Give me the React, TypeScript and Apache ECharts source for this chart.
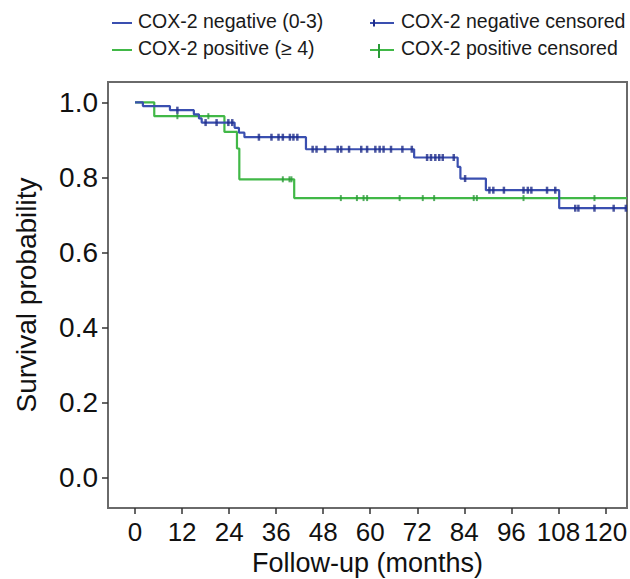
import React, { useEffect, useRef } from "react";
import * as echarts from "echarts";

// ---- Data ----
const xTicks = [0, 12, 24, 36, 48, 60, 72, 84, 96, 108, 120];
const yTicks = [0, 0.2, 0.4, 0.6, 0.8, 1.0];

// COX-2 negative (0-3): Kaplan–Meier step curve
const negTimes = [0, 2, 8.9, 15, 16.3, 17, 25.4, 26.5, 27.9, 43.6, 71.2, 82.3, 83, 89.5, 108.2, 125.5];
const negSurv = [1, 0.99, 0.979, 0.968, 0.957, 0.946, 0.932, 0.919, 0.907, 0.875, 0.853, 0.828, 0.797, 0.766, 0.718, 0.718];
const negCensored = [
  10.8, 18, 20.8, 23.8, 24.8, 31.6, 34.8, 36.6, 37.7, 39.5, 40.4, 41.4, 45.3, 46.3, 48.5, 51.7, 52.6,
  54.6, 57.7, 59.2, 61.3, 62.4, 63.4, 65.3, 68.2, 70.6, 74.5, 75.5, 76.6, 77.6, 78.5, 81.3, 84.2, 90.4,
  91.4, 94.1, 99.1, 100.2, 101.1, 105.1, 107.2, 112.3, 113.1, 117.2, 122.1, 125.2,
];

// COX-2 positive (>= 4)
const posTimes = [0, 4.9, 22.8, 26, 26.6, 40.6, 125.5];
const posSurv = [1, 0.963, 0.921, 0.877, 0.795, 0.745, 0.745];
const posCensored = [10.8, 18.7, 37.7, 39.4, 39.9, 52.5, 56.6, 58.3, 59.2, 67.5, 73.4, 76.3, 86.4, 87.2, 99.1, 117.2];

const legendLabels = [
  "COX-2 negative (0-3)",
  "COX-2 positive (\u2265 4)",
  "COX-2 negative censored",
  "COX-2 positive censored",
];

// ---- Styles ----
const BLUE = "#3a4fb0";
const BLUE_MARK = "#1f2d8a";
const GREEN = "#41b847";
const GREEN_MARK = "#2a9a38";
const FONT = "'Liberation Sans', Arial, Helvetica, sans-serif";

function stepValueAt(times: number[], surv: number[], t: number): number {
  let v = surv[0];
  for (let i = 0; i < times.length; i++) {
    if (times[i] <= t) v = surv[i];
  }
  return v;
}

export default function App() {
  const ref = useRef<HTMLDivElement>(null);

  useEffect(() => {
    if (!ref.current) return;
    const chart = echarts.init(ref.current, undefined, { renderer: "svg" });

    const negLine = negTimes.map((t, i) => [t, negSurv[i]]);
    const posLine = posTimes.map((t, i) => [t, posSurv[i]]);
    const negMarks = negCensored.map((t) => [t, stepValueAt(negTimes, negSurv, t)]);
    const posMarks = posCensored.map((t) => [t, stepValueAt(posTimes, posSurv, t)]);

    chart.setOption({
      animation: false,
      backgroundColor: "#ffffff",
      textStyle: { fontFamily: FONT },
      grid: {
        left: 108,
        right: 3,
        top: 82,
        bottom: 71,
        containLabel: false,
        outerBoundsMode: "none",
        show: true,
        borderColor: "#6a6a6a",
        borderWidth: 2,
        backgroundColor: "transparent",
      },
      xAxis: {
        type: "value",
        min: -6.9,
        max: 125.5,
        axisLine: { show: false, onZero: false },
        axisTick: {
          show: true,
          customValues: xTicks,
          length: 6,
          lineStyle: { color: "#333", width: 1.5 },
        },
        axisLabel: {
          customValues: xTicks,
          fontSize: 26,
          color: "#111",
          margin: 11,
          fontFamily: FONT,
          hideOverlap: false,
        },
        splitLine: { show: false },
        name: "Follow-up (months)",
        nameLocation: "middle",
        nameGap: 41,
        nameTextStyle: { fontSize: 27, color: "#111", fontFamily: FONT },
      },
      yAxis: {
        type: "value",
        min: -0.08,
        max: 1.054,
        axisLine: { show: false, onZero: false },
        axisTick: {
          show: true,
          customValues: yTicks,
          length: 6,
          lineStyle: { color: "#333", width: 1.5 },
        },
        axisLabel: {
          customValues: yTicks,
          fontSize: 28,
          color: "#111",
          margin: 10,
          fontFamily: FONT,
          formatter: (v: number) => v.toFixed(1),
        },
        splitLine: { show: false },
        name: "Survival probability",
        nameLocation: "middle",
        nameGap: 68,
        nameRotate: 90,
        nameTextStyle: { fontSize: 28, color: "#111", fontFamily: FONT },
      },
      series: [
        {
          name: legendLabels[0],
          type: "line",
          step: "end",
          data: negLine,
          showSymbol: false,
          lineStyle: { color: BLUE, width: 2.2 },
          z: 3,
        },
        {
          name: legendLabels[1],
          type: "line",
          step: "end",
          data: posLine,
          showSymbol: false,
          lineStyle: { color: GREEN, width: 2.2 },
          z: 2,
        },
        {
          name: legendLabels[2],
          type: "scatter",
          data: negMarks,
          symbol: "rect",
          symbolSize: [2.5, 7],
          itemStyle: { color: BLUE_MARK },
          z: 5,
        },
        {
          name: legendLabels[3],
          type: "scatter",
          data: posMarks,
          symbol: "rect",
          symbolSize: [2, 6],
          itemStyle: { color: GREEN_MARK },
          z: 4,
        },
      ],
      graphic: [
        { type: "line", shape: { x1: 112, y1: 23, x2: 132, y2: 23 }, style: { stroke: BLUE, lineWidth: 2 } },
        {
          type: "text",
          x: 138,
          y: 21,
          style: { text: legendLabels[0], fontSize: 19.5, fill: "#1a1a1a", fontFamily: FONT, verticalAlign: "middle" },
        },
        { type: "line", shape: { x1: 112, y1: 50, x2: 132, y2: 50 }, style: { stroke: GREEN, lineWidth: 2 } },
        {
          type: "text",
          x: 138,
          y: 48,
          style: { text: legendLabels[1], fontSize: 19.5, fill: "#1a1a1a", fontFamily: FONT, verticalAlign: "middle" },
        },
        { type: "line", shape: { x1: 370, y1: 23, x2: 394, y2: 23 }, style: { stroke: BLUE, lineWidth: 2 } },
        { type: "line", shape: { x1: 374, y1: 19.5, x2: 374, y2: 26.5 }, style: { stroke: BLUE_MARK, lineWidth: 2 } },
        {
          type: "text",
          x: 401,
          y: 21,
          style: { text: legendLabels[2], fontSize: 19.5, fill: "#1a1a1a", fontFamily: FONT, verticalAlign: "middle" },
        },
        { type: "line", shape: { x1: 370, y1: 50, x2: 394, y2: 50 }, style: { stroke: GREEN, lineWidth: 2 } },
        { type: "line", shape: { x1: 379, y1: 44, x2: 379, y2: 58 }, style: { stroke: GREEN_MARK, lineWidth: 2 } },
        {
          type: "text",
          x: 401,
          y: 48,
          style: { text: legendLabels[3], fontSize: 19.5, fill: "#1a1a1a", fontFamily: FONT, verticalAlign: "middle" },
        },
      ],
    });

    return () => {
      chart.dispose();
    };
  }, []);

  return (
    <div
      ref={ref}
      style={{ position: "absolute", left: 0, top: 0, width: 630, height: 579, background: "#fff" }}
    />
  );
}
